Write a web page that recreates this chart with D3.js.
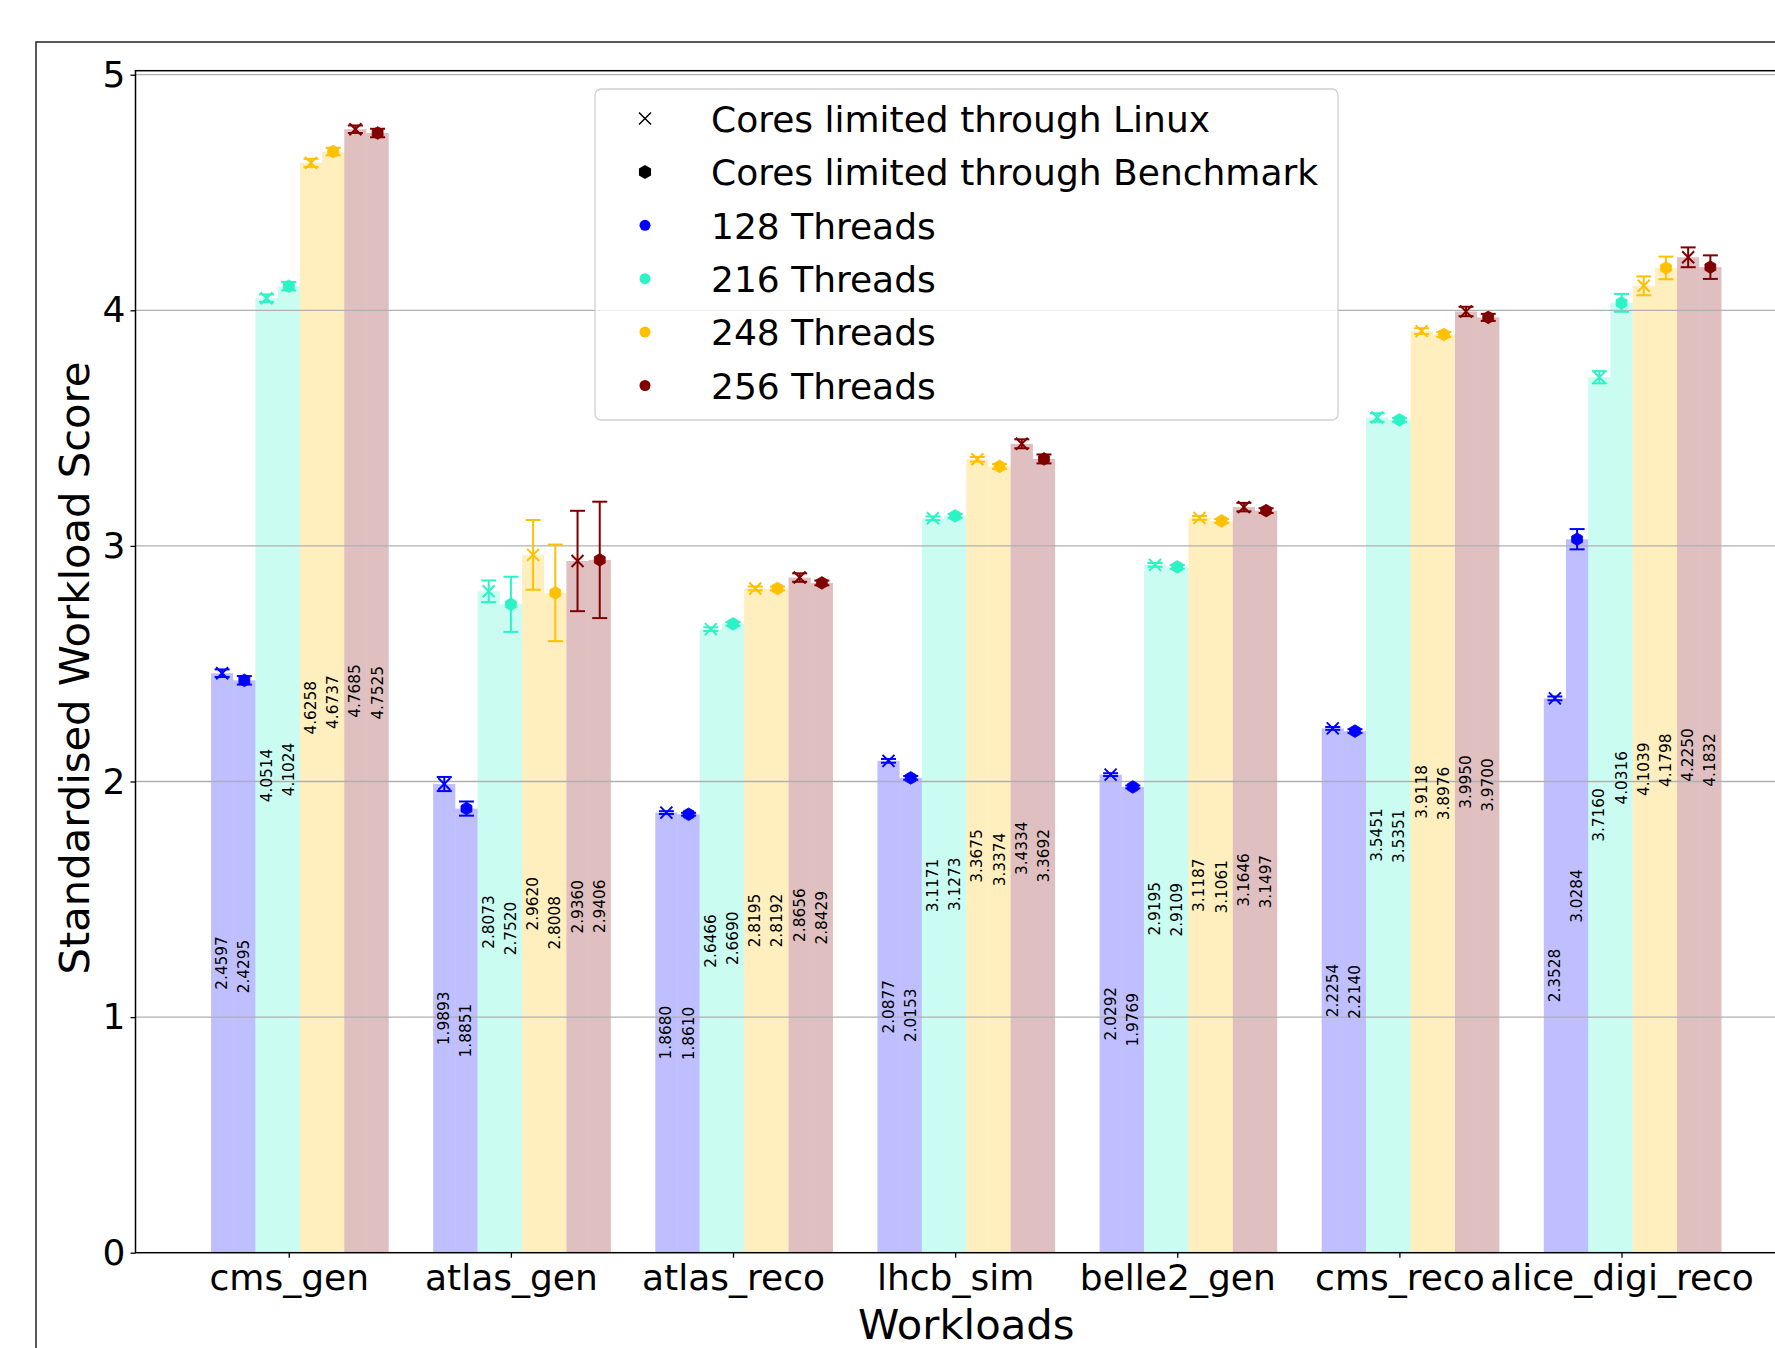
<!DOCTYPE html>
<html><head><meta charset="utf-8">
<script src="https://cdn.jsdelivr.net/npm/d3@7"></script>
<style>
html,body{margin:0;padding:0;background:#fff;}
svg{display:block;font-family:"DejaVu Sans",sans-serif;}
</style></head><body>
<svg id="chart" width="1775" height="1348"></svg>
<script>
// Workloads on the x axis
const workloads = ["cms_gen", "atlas_gen", "atlas_reco", "lhcb_sim", "belle2_gen", "cms_reco", "alice_digi_reco"];
// Thread-count series
const threadCounts = ["128 Threads", "216 Threads", "248 Threads", "256 Threads"];
// Scores with cores limited through Linux (row = thread count, column = workload)
const linuxScores = [
  [2.4597, 1.9893, 1.8680, 2.0877, 2.0292, 2.2254, 2.3528],
  [4.0514, 2.8073, 2.6466, 3.1171, 2.9195, 3.5451, 3.7160],
  [4.6258, 2.9620, 2.8195, 3.3675, 3.1187, 3.9118, 4.1039],
  [4.7685, 2.9360, 2.8656, 3.4334, 3.1646, 3.9950, 4.2250]
];
// Scores with cores limited through the benchmark
const benchmarkScores = [
  [2.4295, 1.8851, 1.8610, 2.0153, 1.9769, 2.2140, 3.0284],
  [4.1024, 2.7520, 2.6690, 3.1273, 2.9109, 3.5351, 4.0316],
  [4.6737, 2.8008, 2.8192, 3.3374, 3.1061, 3.8976, 4.1798],
  [4.7525, 2.9406, 2.8429, 3.3692, 3.1497, 3.9700, 4.1832]
];
// Standard deviations
const linuxErrors = [
  [0.016, 0.030, 0.006, 0.008, 0.006, 0.006, 0.008],
  [0.016, 0.046, 0.008, 0.008, 0.008, 0.018, 0.026],
  [0.017, 0.148, 0.008, 0.010, 0.008, 0.012, 0.040],
  [0.016, 0.213, 0.018, 0.019, 0.018, 0.020, 0.042]
];
const benchmarkErrors = [
  [0.018, 0.030, 0.006, 0.008, 0.006, 0.008, 0.043],
  [0.018, 0.117, 0.008, 0.008, 0.008, 0.008, 0.038],
  [0.016, 0.205, 0.008, 0.010, 0.008, 0.010, 0.048],
  [0.018, 0.247, 0.010, 0.019, 0.010, 0.015, 0.050]
];
const yTicks = [0, 1, 2, 3, 4, 5];
const methods = ["Cores limited through Linux", "Cores limited through Benchmark"];

// Styles
const markerColors = ["#0000ff", "#2cf3c6", "#ffc000", "#800000"];
const barAlpha = 0.25;

const svg = d3.select("#chart");
const plot = {left: 135.5, right: 1797, top: 70.7, bottom: 1252.7};

const x = d3.scaleLinear().domain([-0.69, 6.79]).range([plot.left, plot.right]);
const y = d3.scaleLinear().domain([0, 5.017]).range([plot.bottom, plot.top]);

// Figure frame
svg.append("rect").attr("x", 36).attr("y", 42).attr("width", 2200).attr("height", 2000)
  .attr("fill", "none").attr("stroke", "#222").attr("stroke-width", 1.5);

// Flatten into one record per drawn half-bar
const records = [];
threadCounts.forEach((t, s) => {
  workloads.forEach((w, i) => {
    [linuxScores, benchmarkScores].forEach((src, m) => {
      const err = (m === 0 ? linuxErrors : benchmarkErrors)[s][i];
      records.push({workload: i, series: s, method: m, value: src[s][i], err,
        pos: i - 0.3 + s * 0.2 + m * 0.1});
    });
  });
});

const bw = x(0.1) - x(0);

// Bars
svg.append("g").selectAll("rect").data(records).join("rect")
  .attr("x", d => x(d.pos - 0.05))
  .attr("width", bw)
  .attr("y", d => y(d.value))
  .attr("height", d => y(0) - y(d.value))
  .attr("fill", d => markerColors[d.series])
  .attr("fill-opacity", barAlpha);

// Horizontal grid (drawn above the bars)
svg.append("g").selectAll("line").data(yTicks.filter(v => v > 0)).join("line")
  .attr("x1", plot.left).attr("x2", plot.right)
  .attr("y1", d => y(d)).attr("y2", d => y(d))
  .attr("stroke", "#b0b0b0").attr("stroke-width", 1.3);

// Error bars
const capHalf = 7.5;
const eb = svg.append("g").selectAll("g").data(records).join("g")
  .attr("stroke", d => markerColors[d.series]).attr("stroke-width", 2);
eb.append("line")
  .attr("x1", d => x(d.pos)).attr("x2", d => x(d.pos))
  .attr("y1", d => y(d.value - d.err)).attr("y2", d => y(d.value + d.err));
eb.append("line")
  .attr("x1", d => x(d.pos) - capHalf).attr("x2", d => x(d.pos) + capHalf)
  .attr("y1", d => y(d.value + d.err)).attr("y2", d => y(d.value + d.err));
eb.append("line")
  .attr("x1", d => x(d.pos) - capHalf).attr("x2", d => x(d.pos) + capHalf)
  .attr("y1", d => y(d.value - d.err)).attr("y2", d => y(d.value - d.err));

// Marker shapes
function hexagon(r) {
  const pts = d3.range(6).map(k => {
    const a = (-90 + k * 60) * Math.PI / 180;
    return [r * Math.cos(a), r * Math.sin(a)];
  });
  return "M" + pts.map(p => p.join(",")).join("L") + "Z";
}
function cross(r) {
  return `M${-r},${-r}L${r},${r}M${-r},${r}L${r},${-r}`;
}

svg.append("g").selectAll("path").data(records).join("path")
  .attr("transform", d => `translate(${x(d.pos)},${y(d.value)})`)
  .attr("d", d => d.method === 0 ? cross(6) : hexagon(6.3))
  .attr("fill", d => d.method === 0 ? "none" : markerColors[d.series])
  .attr("stroke", d => markerColors[d.series])
  .attr("stroke-width", d => d.method === 0 ? 2 : 0.8);

// Value labels
const fmt = d3.format(".4f");
svg.append("g").selectAll("text").data(records).join("text")
  .attr("transform", d => `translate(${x(d.pos)},${y(d.value / 2)}) rotate(-90)`)
  .attr("text-anchor", "middle")
  .attr("dominant-baseline", "central")
  .attr("font-size", 15.3)
  .attr("fill", "#000")
  .text(d => fmt(d.value));

// Axes frame
svg.append("rect").attr("x", plot.left).attr("y", plot.top)
  .attr("width", plot.right - plot.left).attr("height", plot.bottom - plot.top)
  .attr("fill", "none").attr("stroke", "#000").attr("stroke-width", 1.5);

// Y axis
const yAxis = svg.append("g").attr("transform", `translate(${plot.left},0)`)
  .call(d3.axisLeft(y).tickValues(yTicks).tickFormat(d3.format("d")).tickSize(5).tickPadding(5));
yAxis.select(".domain").remove();
yAxis.selectAll("line").attr("stroke-width", 1.3);
yAxis.selectAll("text").attr("font-size", 36).attr("font-family", "DejaVu Sans").attr("fill", "#000");

// X axis
const xAxis = svg.append("g").attr("transform", `translate(0,${plot.bottom})`)
  .call(d3.axisBottom(x).tickValues(d3.range(workloads.length)).tickFormat(i => workloads[i]).tickSize(5).tickPadding(6.7));
xAxis.select(".domain").remove();
xAxis.selectAll("line").attr("stroke-width", 1.3);
xAxis.selectAll("text").attr("font-size", 36).attr("font-family", "DejaVu Sans").attr("fill", "#000");

// Axis titles
svg.append("text").attr("x", (plot.left + plot.right) / 2).attr("y", 1339)
  .attr("text-anchor", "middle").attr("font-size", 41.7).text("Workloads");
svg.append("text").attr("transform", "translate(89,668) rotate(-90)")
  .attr("text-anchor", "middle").attr("font-size", 41.7).text("Standardised Workload Score");

// Legend
const legend = svg.append("g");
legend.append("rect").attr("x", 595).attr("y", 89).attr("width", 743).attr("height", 331)
  .attr("rx", 6).attr("fill", "#fff").attr("fill-opacity", 0.8)
  .attr("stroke", "#d0d0d0").attr("stroke-width", 1.3);
const legendItems = [
  {label: methods[0], shape: "cross", color: "#000"},
  {label: methods[1], shape: "hex", color: "#000"},
  ...threadCounts.map((t, s) => ({label: t, shape: "dot", color: markerColors[s]}))
];
const rowY = i => 118.5 + i * 53.4;
const li = legend.selectAll("g.item").data(legendItems).join("g").attr("class", "item");
li.append("path")
  .attr("transform", (d, i) => `translate(645,${rowY(i)})`)
  .attr("d", d => d.shape === "cross" ? cross(6) : d.shape === "hex" ? hexagon(7) : d3.symbol(d3.symbolCircle, 95)())
  .attr("fill", d => d.shape === "cross" ? "none" : d.color)
  .attr("stroke", d => d.shape === "cross" ? d.color : "none")
  .attr("stroke-width", 1.5);
li.append("text").attr("x", 711).attr("y", (d, i) => rowY(i) + 13.3)
  .attr("font-size", 36).attr("fill", "#000").text(d => d.label);
</script>
</body></html>
